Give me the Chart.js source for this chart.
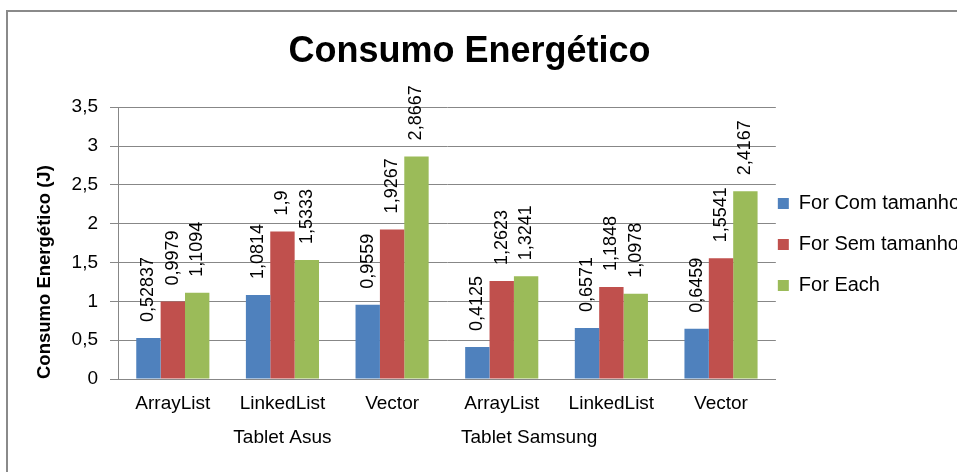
<!DOCTYPE html>
<html><head><meta charset="utf-8">
<script src="https://cdn.jsdelivr.net/npm/chart.js@4/dist/chart.umd.min.js"></script>
<style>
html,body{margin:0;padding:0;background:#fff;overflow:hidden;width:957px;height:472px;}
#frame{position:absolute;left:6px;top:10px;width:2000px;height:2000px;border:2px solid #8a8a8a;box-sizing:border-box;}
#c{position:absolute;left:0;top:0;}
</style></head><body>
<div id="frame"></div>
<canvas id="c" width="970" height="472"></canvas>
<script>
const categories = ['ArrayList', 'LinkedList', 'Vector', 'ArrayList', 'LinkedList', 'Vector'];
const groups = ['Tablet Asus', 'Tablet Samsung'];
const seriesNames = ['For Com tamanho', 'For Sem tamanho', 'For Each'];
const forComTamanho = [0.52837, 1.0814, 0.9559, 0.4125, 0.6571, 0.6459];
const forSemTamanho = [0.9979, 1.9, 1.9267, 1.2623, 1.1848, 1.5541];
const forEachValues = [1.1094, 1.5333, 2.8667, 1.3241, 1.0978, 2.4167];
const yTickMin = 0, yTickMax = 3.5, yTickStep = 0.5;

const FONT = '"Liberation Sans", Arial, sans-serif';
const fmt = v => String(v).replace('.', ',');
Chart.defaults.font.family = FONT;
Chart.defaults.color = '#000';

const dataLabels = {
  id: 'dataLabels',
  afterDatasetsDraw(chart) {
    const ctx = chart.ctx;
    ctx.save();
    ctx.font = '18px ' + FONT;
    ctx.fillStyle = '#000';
    ctx.textAlign = 'left';
    ctx.textBaseline = 'middle';
    chart.data.datasets.forEach((ds, i) => {
      chart.getDatasetMeta(i).data.forEach((el, j) => {
        ctx.save();
        ctx.translate(el.x, el.y - 16);
        ctx.rotate(-Math.PI / 2);
        ctx.fillText(fmt(ds.data[j]), 0, 0);
        ctx.restore();
      });
    });
    ctx.restore();
  }
};
const groupLabels = {
  id: 'groupLabels',
  afterDraw(chart) {
    const xs = chart.scales.x, ctx = chart.ctx;
    const p = i => xs.getPixelForValue(i);
    ctx.save();
    ctx.font = '19px ' + FONT;
    ctx.fillStyle = '#000';
    ctx.textAlign = 'center';
    ctx.textBaseline = 'middle';
    const y = xs.top + 59;
    ctx.fillText(groups[0], p(1), y);
    ctx.fillText(groups[1], p(3) + (p(4) - p(3)) * 0.25, y);
    ctx.restore();
  }
};
const TITLE_CENTER = 469.5;
const shiftLayout = {
  id: 'shiftLayout',
  afterLayout(chart) {
    const lg = chart.legend;
    lg.top += 11; lg.bottom += 11;
    const t = chart.titleBlock;
    const d = TITLE_CENTER - (t.left + t.right) / 2;
    t.left += d; t.right += d;
  }
};

const colors = ['#4F81BD', '#C0504D', '#9BBB59'];
const seriesData = [forComTamanho, forSemTamanho, forEachValues];

new Chart(document.getElementById('c'), {
  type: 'bar',
  data: {
    labels: categories,
    datasets: seriesNames.map((n, i) => ({
      label: n,
      data: seriesData[i],
      backgroundColor: colors[i],
      borderWidth: 0,
      categoryPercentage: 0.667,
      barPercentage: 1.0
    }))
  },
  options: {
    responsive: false,
    animation: false,
    layout: { padding: { left: 0, right: 0, top: 0, bottom: 23 } },
    plugins: {
      title: {
        display: true,
        text: 'Consumo Energético',
        color: '#000',
        font: { size: 36, weight: 'bold', family: FONT },
        padding: { top: 30, bottom: 34 }
      },
      legend: {
        position: 'right',
        fullSize: false,
        labels: {
          boxWidth: 11,
          boxHeight: 11,
          padding: 2,
          color: '#000',
          font: { size: 20, lineHeight: 39 / 20, family: FONT },
          generateLabels(chart) {
            return Chart.defaults.plugins.legend.labels.generateLabels(chart).map(it => {
              it.text = [it.text];
              it.lineWidth = 0;
              return it;
            });
          }
        }
      },
      tooltip: { enabled: false }
    },
    scales: {
      x: {
        grid: { display: false, drawTicks: false, tickLength: 0 },
        border: { display: true, color: '#878787', width: 1 },
        ticks: { font: { size: 19 }, color: '#000', padding: 13, autoSkip: false, maxRotation: 0 },
        afterFit(s) { s.height = 70; }
      },
      y: {
        min: yTickMin,
        max: yTickMax,
        ticks: { stepSize: yTickStep, font: { size: 19 }, color: '#000', padding: 12, callback: v => fmt(v) },
        grid: { color: '#878787', tickLength: 8, drawTicks: true },
        border: { display: true, color: '#878787', width: 1 },
        title: {
          display: true,
          text: 'Consumo Energético (J)',
          align: 'start',
          color: '#000',
          font: { size: 18.5, weight: 'bold', family: FONT },
          padding: { top: 34, bottom: 0 }
        },
        afterFit(s) { s.width = 118; }
      }
    }
  },
  plugins: [dataLabels, groupLabels, shiftLayout]
});
</script>
</body></html>
